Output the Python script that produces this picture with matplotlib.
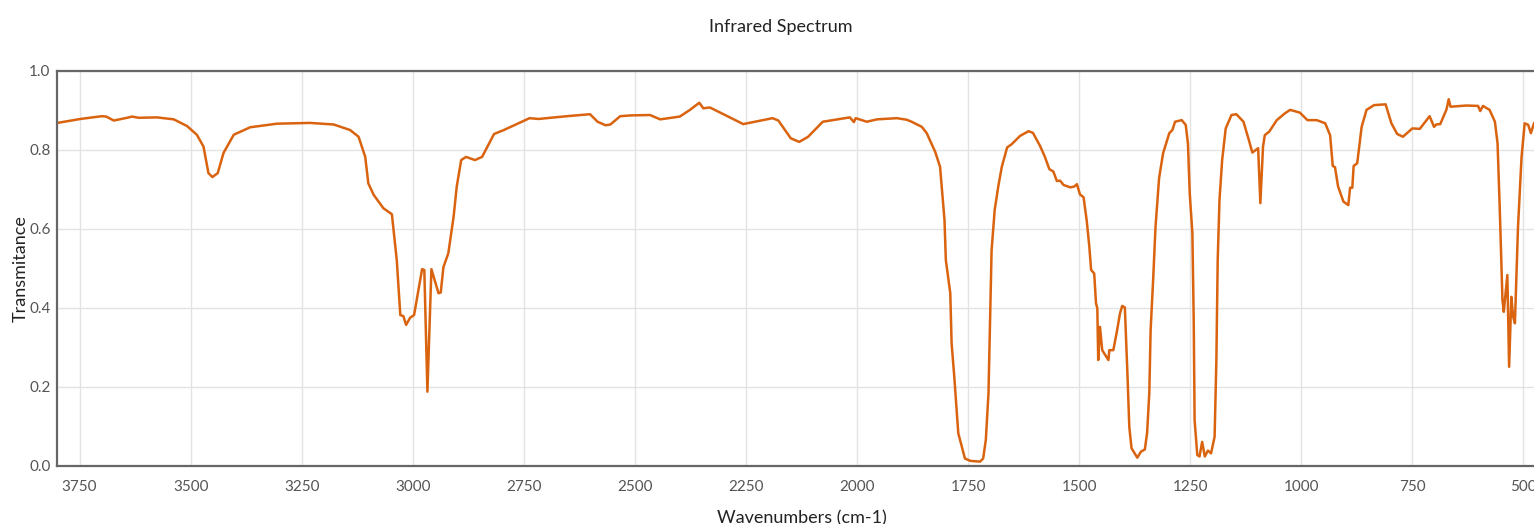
import numpy as np
from matplotlib import pyplot as plt

plt.rcParams['font.family'] = ['Lato', 'DejaVu Sans']

wavenumber = [3800, 3748, 3700, 3690, 3673, 3643, 3632, 3617, 3576, 3538, 3508, 3486, 3471,
              3460, 3451, 3439, 3426, 3403, 3366, 3306, 3231, 3178, 3141, 3122, 3107, 3100,
              3088, 3066, 3047, 3036, 3028, 3021, 3015, 3006, 2997, 2979, 2974, 2967, 2958,
              2942, 2937, 2931, 2920, 2908, 2901, 2891, 2880, 2860, 2844, 2817, 2795, 2737,
              2717, 2653, 2601, 2584, 2566, 2555, 2533, 2509, 2466, 2443, 2399, 2376, 2355,
              2346, 2331, 2256, 2190, 2177, 2149, 2130, 2110, 2077, 2016, 2007, 2003, 1978,
              1955, 1910, 1888, 1877, 1854, 1843, 1824, 1813, 1803, 1800, 1790, 1787, 1781,
              1772, 1764, 1757, 1745, 1723, 1716, 1710, 1704, 1701, 1697, 1690, 1682, 1674,
              1662, 1652, 1633, 1614, 1604, 1588, 1577, 1567, 1558, 1550, 1543, 1535, 1520,
              1511, 1505, 1498, 1490, 1483, 1477, 1473, 1466, 1462, 1459, 1457, 1453, 1448,
              1434, 1432, 1423, 1415, 1408, 1403, 1397, 1391, 1387, 1382, 1369, 1361, 1352,
              1347, 1342, 1339, 1333, 1328, 1320, 1311, 1297, 1290, 1284, 1269, 1260, 1255,
              1251, 1245, 1242, 1240, 1234, 1229, 1223, 1217, 1210, 1203, 1195, 1191, 1188,
              1184, 1178, 1170, 1157, 1146, 1130, 1119, 1110, 1097, 1092, 1086, 1082, 1072,
              1055, 1037, 1025, 1003, 986, 965, 946, 935, 929, 924, 917, 905, 894, 890, 885,
              882, 874, 864, 853, 836, 810, 797, 784, 771, 750, 733, 711, 701, 696, 687, 673,
              668, 664, 628, 602, 597, 591, 576, 564, 558, 553, 547, 544, 540, 536, 532, 527,
              523, 519, 512, 504, 497, 489, 483, 476]
transmittance = [0.868, 0.878, 0.885, 0.884, 0.874, 0.881, 0.884, 0.881, 0.882, 0.877, 0.860,
                 0.838, 0.808, 0.741, 0.731, 0.741, 0.792, 0.838, 0.857, 0.866, 0.868, 0.864,
                 0.850, 0.833, 0.782, 0.715, 0.686, 0.652, 0.637, 0.521, 0.382, 0.379, 0.357,
                 0.375, 0.382, 0.498, 0.496, 0.188, 0.498, 0.437, 0.439, 0.503, 0.538, 0.631,
                 0.707, 0.774, 0.782, 0.774, 0.782, 0.840, 0.850, 0.880, 0.878, 0.885, 0.890,
                 0.871, 0.862, 0.864, 0.885, 0.887, 0.888, 0.877, 0.884, 0.901, 0.919, 0.905,
                 0.907, 0.865, 0.880, 0.874, 0.829, 0.820, 0.833, 0.871, 0.882, 0.870, 0.880,
                 0.871, 0.877, 0.880, 0.876, 0.871, 0.858, 0.842, 0.795, 0.757, 0.622, 0.521,
                 0.437, 0.310, 0.226, 0.083, 0.049, 0.019, 0.013, 0.011, 0.019, 0.066, 0.184,
                 0.336, 0.546, 0.648, 0.707, 0.757, 0.806, 0.814, 0.835, 0.847, 0.843, 0.810,
                 0.782, 0.751, 0.745, 0.721, 0.722, 0.711, 0.705, 0.707, 0.713, 0.687, 0.680,
                 0.622, 0.555, 0.496, 0.487, 0.412, 0.399, 0.268, 0.352, 0.293, 0.268, 0.293,
                 0.293, 0.340, 0.386, 0.405, 0.401, 0.226, 0.099, 0.045, 0.021, 0.036, 0.042,
                 0.083, 0.184, 0.344, 0.479, 0.605, 0.728, 0.791, 0.842, 0.850, 0.871, 0.875,
                 0.863, 0.816, 0.690, 0.589, 0.369, 0.116, 0.028, 0.024, 0.061, 0.024, 0.039,
                 0.032, 0.074, 0.268, 0.521, 0.673, 0.774, 0.854, 0.888, 0.890, 0.871, 0.829,
                 0.793, 0.804, 0.665, 0.808, 0.837, 0.846, 0.875, 0.892, 0.901, 0.894, 0.875,
                 0.875, 0.867, 0.837, 0.759, 0.756, 0.707, 0.669, 0.660, 0.704, 0.704, 0.759,
                 0.766, 0.858, 0.901, 0.913, 0.915, 0.867, 0.840, 0.833, 0.854, 0.853, 0.885,
                 0.858, 0.864, 0.865, 0.902, 0.928, 0.909, 0.912, 0.911, 0.898, 0.911, 0.901,
                 0.871, 0.816, 0.648, 0.420, 0.390, 0.437, 0.483, 0.251, 0.428, 0.378, 0.361,
                 0.605, 0.782, 0.867, 0.863, 0.842, 0.867]

xticks = [3750, 3500, 3250, 3000, 2750, 2500, 2250, 2000, 1750, 1500, 1250, 1000, 750, 500]
yticks = [0.0, 0.2, 0.4, 0.6, 0.8, 1.0]

fig = plt.figure(figsize=(15.34, 5.24), dpi=100)
ax = fig.add_axes([0.0374, 0.1107, 0.9626, 0.7543])

ax.plot(wavenumber, transmittance, color='#d9630f', linewidth=1.8, solid_joinstyle='round')

ax.set_xlim(3800, 476)
ax.set_ylim(0, 1)
ax.set_xticks(xticks)
ax.set_yticks(yticks)
ax.set_yticklabels([f'{v:.1f}' for v in yticks])
ax.grid(True, color='#e3e3e3', linewidth=1.0)
ax.set_axisbelow(True)
ax.tick_params(length=0, labelsize=11, labelcolor='#555555')
ax.tick_params(axis='x', pad=10)
ax.tick_params(axis='y', pad=5)

for side in ['left', 'top', 'bottom']:
    ax.spines[side].set_color('#666666')
    ax.spines[side].set_linewidth(1.6)
ax.spines['right'].set_visible(False)

ax.set_title('Infrared Spectrum', fontsize=13, color='#222222', pad=28, x=0.49)
ax.set_xlabel('Wavenumbers (cm-1)', fontsize=13, color='#222222', labelpad=12, x=0.504)
ax.set_ylabel('Transmitance', fontsize=13, color='#222222', labelpad=0)

fig.savefig('out.png', dpi=100)
